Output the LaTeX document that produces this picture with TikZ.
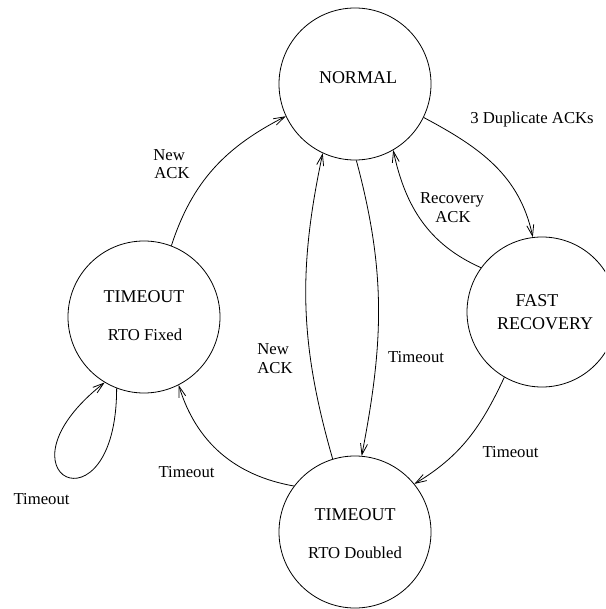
\documentclass[tikz,border=0pt]{standalone}
\usepackage{fontspec}
\setmainfont{Liberation Serif}
\usetikzlibrary{arrows.meta}
\begin{document}
\begin{tikzpicture}[x=1pt,y=-1pt, line width=0.8pt,
  state/.style={draw, circle, minimum size=152pt, inner sep=0pt},
  big/.style={font=\fontsize{18}{20}\selectfont, anchor=base, inner sep=0pt},
  small/.style={font=\fontsize{16.7}{19}\selectfont, anchor=base, inner sep=0pt},
  smallw/.style={font=\fontsize{16.7}{19}\selectfont, anchor=base west, inner sep=0pt},
  arr/.style={-{Straight Barb[length=11pt,width=7pt]}}]
\useasboundingbox (0,0) rectangle (605,609);
\clip (0,0) rectangle (605,609);
% states
\node[state] (N) at (355,84) {};
\node[state, minimum size=150pt] (FR) at (542,312) {};
\node[state] (TF) at (144,317) {};
\node[state] (TD) at (355,532) {};
% state texts
\node[big] (tN) at (358,84) {NORMAL};
\node[big] (tFR1) at (537,306) {FAST};
\node[big] (tFR2) at (545,329) {RECOVERY};
\node[big] (tTF) at (144,302) {TIMEOUT};
\node[small] (sTF) at (145,340) {RTO Fixed};
\node[big] (tTD) at (355,520) {TIMEOUT};
\node[small] (sTD) at (355,558) {RTO Doubled};
% transitions
\draw[arr] (N.-26) to[out=-28,in=102] (FR.97);
\draw[arr] (FR.144) to[out=156,in=-78] (N.-60);
\draw[arr] (N.-89) to[out=-75,in=79] (TD.85);
\draw[arr] (TD.107) to[out=106,in=-102] (N.-115);
\draw[arr] (TF.69) to[out=72,in=-153] (N.-155);
\draw[arr] (TD.143) to[out=170,in=-73] (TF.-63);
\draw[arr] (FR.-120) to[out=-115,in=31] (TD.39);
\draw[arr] (TF.-111) .. controls +(0,150) and +(-118,93) .. (TF.-121);
% transition labels
\node[small] (l1) at (532,123.5) {3 Duplicate ACKs};
\node[small] (l2a) at (452,203.5) {Recovery};
\node[small] (l2b) at (453,222.5) {ACK};
\node[smallw] (l3a) at (153,160.5) {New};
\node[smallw] (l3b) at (154,178.5) {ACK};
\node[smallw] (l4a) at (257,354.5) {New};
\node[smallw] (l4b) at (257,373.5) {ACK};
\node[small] (l5) at (416,362.5) {Timeout};
\node[small] (l6) at (510.5,457.5) {Timeout};
\node[small] (l7) at (186.5,477.5) {Timeout};
\node[small] (l8) at (41.5,504.5) {Timeout};
\end{tikzpicture}
\end{document}
